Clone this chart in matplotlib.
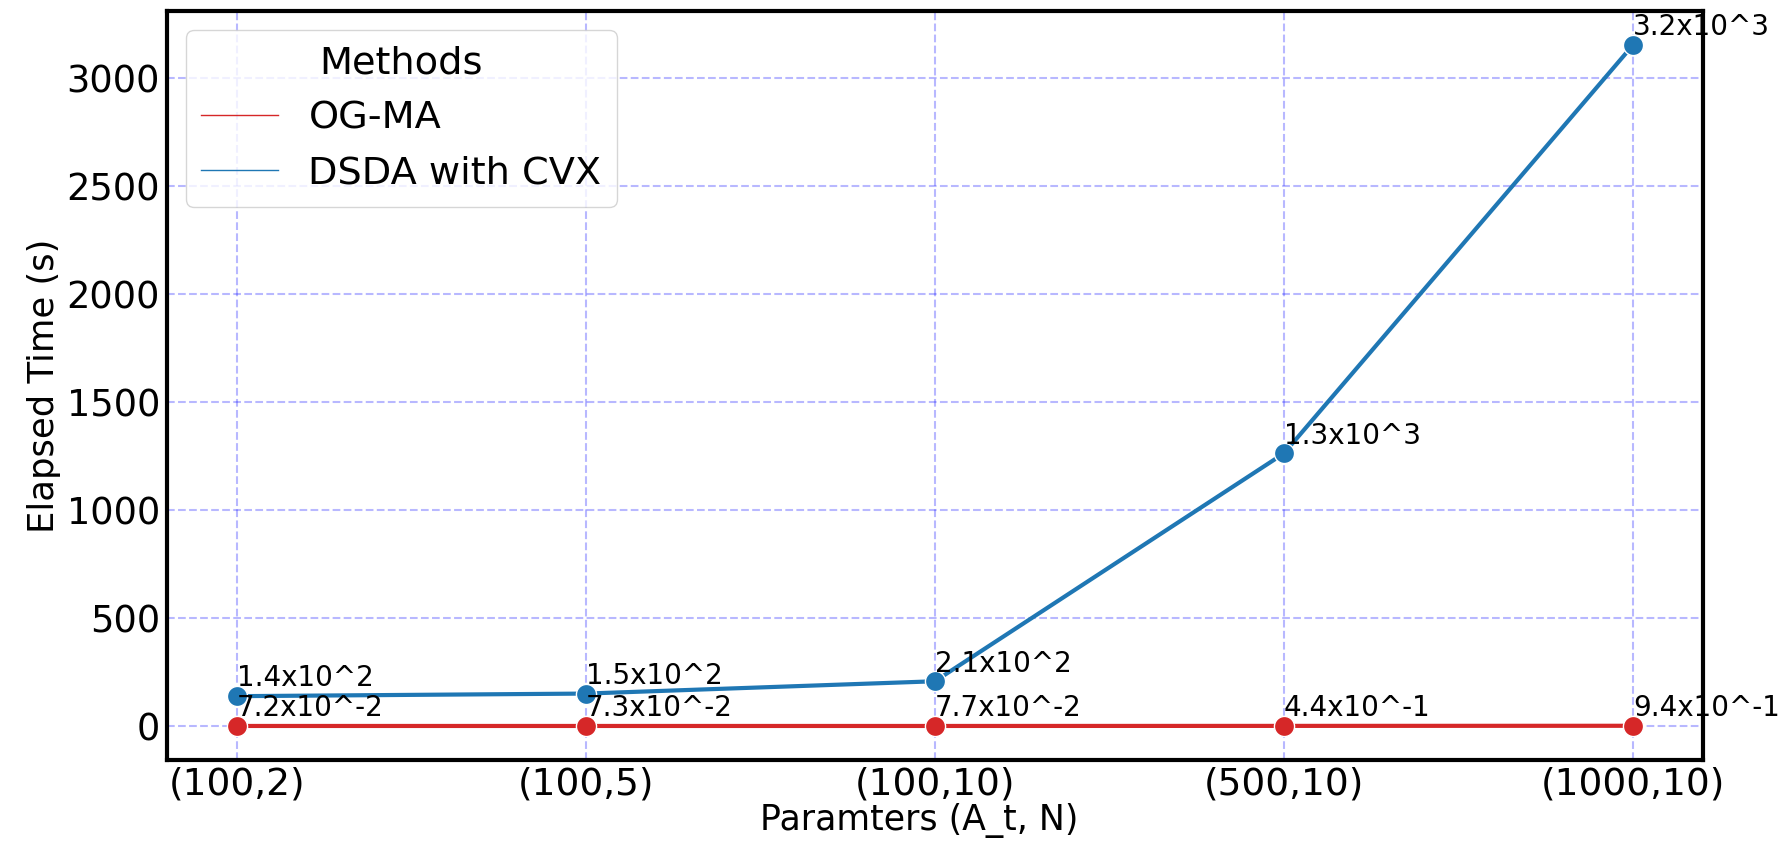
import matplotlib
matplotlib.use('Agg')
from matplotlib import pyplot as plt
from matplotlib.lines import Line2D
import numpy as np

params = ['(100,2)', '(100,5)', '(100,10)', '(500,10)', '(1000,10)']
og_ma = [0.072, 0.073, 0.077, 0.44, 0.94]
dsda_cvx = [138, 150, 207, 1262, 3152]
methods = ['OG-MA', 'DSDA with CVX']
colors = ['#d62728', '#1f77b4']


def sci_label(v):
    exp = int(np.floor(np.log10(v)))
    mant = v / 10 ** exp
    return '{:.1f}x10^{}'.format(mant, exp)


def main():
    fig, ax = plt.subplots(figsize=(17.83, 8.47), dpi=100)
    fig.subplots_adjust(left=0.0937, right=0.955, top=0.987, bottom=0.1027)

    for vals, color in zip([dsda_cvx, og_ma], [colors[1], colors[0]]):
        ax.plot(params, vals, color=color, linewidth=3, marker='o',
                markersize=14.5, markeredgecolor='white', markeredgewidth=1)
        for x, v in zip(params, vals):
            ax.annotate(sci_label(v), (x, v), xytext=(0, 7), textcoords='offset points',
                        ha='left', va='baseline', fontsize=20, annotation_clip=False)

    ax.grid(True, color='blue', alpha=0.28, linestyle='--', linewidth=1.5)
    for s in ax.spines.values():
        s.set_linewidth(3)
        s.set_color('black')
    ax.tick_params(axis='both', length=0, pad=5)
    ax.tick_params(axis='x', labelsize=27)
    ax.tick_params(axis='y', labelsize=26.5)
    ax.set_xlabel('Paramters (A_t, N)', fontsize=25, labelpad=0, x=0.49)
    ax.set_ylabel('Elapsed Time (s)', fontsize=25.5)

    handles = [Line2D([], [], color=c, linewidth=1) for c in colors]
    leg = ax.legend(handles, methods, title='Methods', loc='upper left',
                    fontsize=27.5, title_fontsize=27.5, frameon=True, fancybox=True)
    leg.get_frame().set_edgecolor('#cccccc')

    fig.savefig('out.png', dpi=100)


if __name__ == '__main__':
    main()
